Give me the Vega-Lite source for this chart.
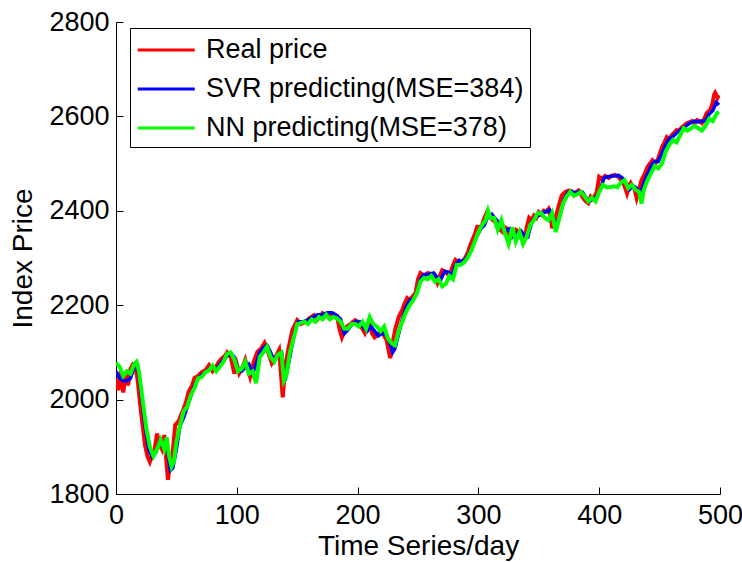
{
  "$schema": "https://vega.github.io/schema/vega-lite/v6.json",
  "width": 604,
  "height": 472,
  "autosize": {"type": "none"},
  "padding": {"left": 116, "top": 22, "right": 22, "bottom": 68},
  "background": "white",
  "config": {
    "view": {"stroke": null},
    "font": "Liberation Sans",
    "axis": {
      "domainColor": "black", "domainWidth": 1, "tickColor": "black", "tickWidth": 1, "ticks": true,
      "labelFontSize": 27, "labelColor": "black", "titleFontSize": 28,
      "titleFontWeight": "normal", "titleColor": "black", "grid": false, "labelFont": "Liberation Sans", "titleFont": "Liberation Sans"
    }
  },
  "datasets": {
    "real": [
      {"d":0,"v":2045},{"d":2,"v":2020},{"d":4,"v":2060},{"d":6,"v":2015},{"d":8,"v":2055},{"d":10,"v":2030},{"d":12,"v":2065},{"d":14,"v":2075},{"d":16,"v":2072},{"d":18,"v":2040},{"d":20,"v":1990},{"d":22,"v":1946},{"d":24,"v":1904},{"d":26,"v":1880},{"d":28,"v":1868},{"d":30,"v":1882},{"d":32,"v":1895},{"d":34,"v":1928},{"d":36,"v":1905},{"d":38,"v":1895},{"d":40,"v":1925},{"d":42,"v":1860},{"d":43,"v":1830},{"d":45,"v":1870},{"d":47,"v":1890},{"d":49,"v":1946},{"d":52,"v":1955},{"d":55,"v":1974},{"d":58,"v":1995},{"d":60,"v":2016},{"d":63,"v":2030},{"d":65,"v":2046},{"d":68,"v":2050},{"d":71,"v":2058},{"d":74,"v":2062},{"d":77,"v":2073},{"d":80,"v":2060},{"d":82,"v":2065},{"d":85,"v":2080},{"d":88,"v":2088},{"d":90,"v":2092},{"d":92,"v":2100},{"d":95,"v":2090},{"d":98,"v":2055},{"d":100,"v":2075},{"d":102,"v":2056},{"d":105,"v":2070},{"d":107,"v":2084},{"d":109,"v":2065},{"d":111,"v":2048},{"d":114,"v":2080},{"d":117,"v":2101},{"d":120,"v":2108},{"d":123,"v":2120},{"d":126,"v":2100},{"d":129,"v":2077},{"d":132,"v":2090},{"d":135,"v":2105},{"d":137,"v":2040},{"d":138,"v":2005},{"d":140,"v":2070},{"d":143,"v":2111},{"d":146,"v":2147},{"d":150,"v":2168},{"d":153,"v":2160},{"d":157,"v":2165},{"d":160,"v":2172},{"d":164,"v":2179},{"d":167,"v":2170},{"d":171,"v":2183},{"d":174,"v":2178},{"d":177,"v":2183},{"d":180,"v":2175},{"d":183,"v":2176},{"d":185,"v":2150},{"d":187,"v":2132},{"d":189,"v":2145},{"d":191,"v":2154},{"d":194,"v":2160},{"d":198,"v":2168},{"d":201,"v":2160},{"d":204,"v":2150},{"d":206,"v":2141},{"d":208,"v":2155},{"d":210,"v":2160},{"d":212,"v":2140},{"d":214,"v":2132},{"d":217,"v":2140},{"d":220,"v":2145},{"d":222,"v":2135},{"d":224,"v":2126},{"d":226,"v":2100},{"d":227,"v":2088},{"d":229,"v":2120},{"d":231,"v":2147},{"d":234,"v":2175},{"d":237,"v":2190},{"d":239,"v":2204},{"d":241,"v":2215},{"d":243,"v":2211},{"d":246,"v":2220},{"d":248,"v":2226},{"d":250,"v":2255},{"d":252,"v":2268},{"d":255,"v":2262},{"d":258,"v":2268},{"d":262,"v":2266},{"d":264,"v":2258},{"d":266,"v":2247},{"d":268,"v":2262},{"d":270,"v":2274},{"d":273,"v":2270},{"d":276,"v":2262},{"d":279,"v":2285},{"d":281,"v":2296},{"d":284,"v":2290},{"d":286,"v":2290},{"d":289,"v":2300},{"d":291,"v":2310},{"d":293,"v":2325},{"d":295,"v":2338},{"d":297,"v":2350},{"d":299,"v":2366},{"d":301,"v":2365},{"d":303,"v":2370},{"d":305,"v":2385},{"d":307,"v":2397},{"d":309,"v":2390},{"d":311,"v":2383},{"d":313,"v":2378},{"d":315,"v":2373},{"d":318,"v":2360},{"d":320,"v":2355},{"d":322,"v":2365},{"d":324,"v":2362},{"d":326,"v":2340},{"d":328,"v":2349},{"d":331,"v":2360},{"d":334,"v":2355},{"d":336,"v":2345},{"d":338,"v":2342},{"d":340,"v":2365},{"d":342,"v":2385},{"d":344,"v":2380},{"d":346,"v":2390},{"d":348,"v":2385},{"d":350,"v":2397},{"d":352,"v":2392},{"d":354,"v":2400},{"d":356,"v":2398},{"d":358,"v":2404},{"d":360,"v":2385},{"d":361,"v":2363},{"d":363,"v":2380},{"d":365,"v":2397},{"d":367,"v":2415},{"d":369,"v":2433},{"d":372,"v":2440},{"d":375,"v":2443},{"d":377,"v":2440},{"d":379,"v":2433},{"d":381,"v":2440},{"d":383,"v":2443},{"d":385,"v":2435},{"d":387,"v":2426},{"d":389,"v":2420},{"d":391,"v":2416},{"d":393,"v":2430},{"d":395,"v":2425},{"d":398,"v":2440},{"d":400,"v":2472},{"d":402,"v":2468},{"d":405,"v":2474},{"d":408,"v":2470},{"d":410,"v":2474},{"d":413,"v":2476},{"d":416,"v":2472},{"d":418,"v":2465},{"d":420,"v":2459},{"d":422,"v":2445},{"d":423,"v":2437},{"d":425,"v":2455},{"d":426,"v":2459},{"d":428,"v":2450},{"d":429,"v":2448},{"d":431,"v":2427},{"d":433,"v":2445},{"d":435,"v":2465},{"d":438,"v":2480},{"d":440,"v":2493},{"d":442,"v":2500},{"d":444,"v":2507},{"d":446,"v":2500},{"d":448,"v":2504},{"d":450,"v":2520},{"d":452,"v":2535},{"d":454,"v":2545},{"d":456,"v":2556},{"d":458,"v":2552},{"d":460,"v":2560},{"d":462,"v":2565},{"d":464,"v":2571},{"d":466,"v":2570},{"d":469,"v":2578},{"d":471,"v":2582},{"d":473,"v":2586},{"d":475,"v":2588},{"d":477,"v":2590},{"d":479,"v":2585},{"d":481,"v":2592},{"d":483,"v":2590},{"d":485,"v":2586},{"d":487,"v":2595},{"d":489,"v":2607},{"d":491,"v":2612},{"d":492,"v":2614},{"d":494,"v":2630},{"d":495,"v":2645},{"d":496,"v":2650},{"d":498,"v":2640},{"d":499,"v":2645}
    ],
    "svr": [
      {"d":0,"v":2060},{"d":3,"v":2045},{"d":6,"v":2040},{"d":9,"v":2040},{"d":12,"v":2045},{"d":15,"v":2068},{"d":18,"v":2070},{"d":21,"v":2010},{"d":24,"v":1945},{"d":27,"v":1895},{"d":30,"v":1878},{"d":33,"v":1888},{"d":36,"v":1910},{"d":39,"v":1900},{"d":42,"v":1905},{"d":45,"v":1850},{"d":47,"v":1855},{"d":50,"v":1895},{"d":53,"v":1945},{"d":56,"v":1962},{"d":59,"v":1985},{"d":62,"v":2008},{"d":65,"v":2030},{"d":68,"v":2045},{"d":71,"v":2052},{"d":74,"v":2058},{"d":77,"v":2064},{"d":80,"v":2070},{"d":83,"v":2063},{"d":86,"v":2075},{"d":89,"v":2085},{"d":92,"v":2092},{"d":95,"v":2098},{"d":98,"v":2090},{"d":101,"v":2062},{"d":104,"v":2060},{"d":107,"v":2068},{"d":110,"v":2075},{"d":113,"v":2055},{"d":116,"v":2075},{"d":119,"v":2100},{"d":122,"v":2110},{"d":125,"v":2115},{"d":128,"v":2100},{"d":131,"v":2082},{"d":134,"v":2095},{"d":137,"v":2100},{"d":140,"v":2040},{"d":142,"v":2065},{"d":145,"v":2105},{"d":148,"v":2145},{"d":151,"v":2165},{"d":155,"v":2165},{"d":159,"v":2168},{"d":163,"v":2175},{"d":167,"v":2180},{"d":171,"v":2180},{"d":175,"v":2184},{"d":179,"v":2184},{"d":183,"v":2178},{"d":186,"v":2170},{"d":189,"v":2140},{"d":192,"v":2148},{"d":195,"v":2158},{"d":199,"v":2166},{"d":202,"v":2165},{"d":205,"v":2152},{"d":208,"v":2145},{"d":211,"v":2155},{"d":214,"v":2145},{"d":217,"v":2135},{"d":220,"v":2140},{"d":223,"v":2138},{"d":226,"v":2125},{"d":229,"v":2100},{"d":231,"v":2108},{"d":234,"v":2140},{"d":237,"v":2170},{"d":240,"v":2195},{"d":243,"v":2210},{"d":246,"v":2213},{"d":249,"v":2225},{"d":252,"v":2255},{"d":255,"v":2265},{"d":259,"v":2265},{"d":263,"v":2268},{"d":266,"v":2258},{"d":269,"v":2255},{"d":272,"v":2272},{"d":275,"v":2270},{"d":278,"v":2263},{"d":281,"v":2285},{"d":284,"v":2295},{"d":287,"v":2292},{"d":290,"v":2300},{"d":293,"v":2312},{"d":296,"v":2330},{"d":299,"v":2348},{"d":302,"v":2362},{"d":305,"v":2370},{"d":308,"v":2390},{"d":311,"v":2393},{"d":314,"v":2383},{"d":317,"v":2375},{"d":320,"v":2365},{"d":323,"v":2358},{"d":326,"v":2362},{"d":329,"v":2345},{"d":332,"v":2352},{"d":335,"v":2358},{"d":338,"v":2348},{"d":341,"v":2345},{"d":344,"v":2375},{"d":347,"v":2387},{"d":350,"v":2390},{"d":353,"v":2396},{"d":356,"v":2398},{"d":359,"v":2402},{"d":362,"v":2385},{"d":365,"v":2368},{"d":368,"v":2395},{"d":371,"v":2425},{"d":374,"v":2438},{"d":377,"v":2442},{"d":380,"v":2437},{"d":383,"v":2440},{"d":386,"v":2440},{"d":389,"v":2428},{"d":392,"v":2420},{"d":395,"v":2425},{"d":398,"v":2430},{"d":401,"v":2445},{"d":404,"v":2470},{"d":407,"v":2472},{"d":410,"v":2473},{"d":413,"v":2474},{"d":416,"v":2475},{"d":419,"v":2470},{"d":422,"v":2460},{"d":425,"v":2445},{"d":428,"v":2453},{"d":431,"v":2448},{"d":434,"v":2432},{"d":437,"v":2460},{"d":440,"v":2478},{"d":443,"v":2495},{"d":446,"v":2505},{"d":449,"v":2505},{"d":452,"v":2522},{"d":455,"v":2540},{"d":458,"v":2553},{"d":461,"v":2557},{"d":464,"v":2565},{"d":467,"v":2571},{"d":470,"v":2576},{"d":473,"v":2582},{"d":476,"v":2587},{"d":479,"v":2590},{"d":482,"v":2588},{"d":485,"v":2590},{"d":488,"v":2590},{"d":491,"v":2605},{"d":494,"v":2612},{"d":497,"v":2630},{"d":499,"v":2624}
    ],
    "nn": [
      {"d":0,"v":2078},{"d":3,"v":2070},{"d":6,"v":2050},{"d":9,"v":2060},{"d":12,"v":2055},{"d":15,"v":2075},{"d":17,"v":2080},{"d":19,"v":2060},{"d":22,"v":2000},{"d":25,"v":1940},{"d":28,"v":1900},{"d":31,"v":1880},{"d":34,"v":1895},{"d":37,"v":1915},{"d":40,"v":1895},{"d":42,"v":1920},{"d":44,"v":1880},{"d":46,"v":1858},{"d":48,"v":1870},{"d":50,"v":1910},{"d":53,"v":1945},{"d":56,"v":1975},{"d":59,"v":1985},{"d":62,"v":2010},{"d":65,"v":2025},{"d":68,"v":2045},{"d":71,"v":2048},{"d":74,"v":2058},{"d":77,"v":2062},{"d":80,"v":2072},{"d":83,"v":2060},{"d":86,"v":2070},{"d":89,"v":2080},{"d":92,"v":2097},{"d":95,"v":2100},{"d":98,"v":2085},{"d":101,"v":2060},{"d":104,"v":2065},{"d":107,"v":2080},{"d":110,"v":2055},{"d":113,"v":2060},{"d":116,"v":2035},{"d":119,"v":2090},{"d":122,"v":2100},{"d":125,"v":2112},{"d":128,"v":2090},{"d":131,"v":2080},{"d":134,"v":2095},{"d":137,"v":2100},{"d":139,"v":2040},{"d":141,"v":2050},{"d":144,"v":2100},{"d":147,"v":2130},{"d":150,"v":2160},{"d":153,"v":2162},{"d":156,"v":2165},{"d":159,"v":2160},{"d":162,"v":2170},{"d":165,"v":2165},{"d":168,"v":2175},{"d":171,"v":2170},{"d":174,"v":2180},{"d":177,"v":2170},{"d":180,"v":2175},{"d":183,"v":2172},{"d":186,"v":2165},{"d":189,"v":2150},{"d":192,"v":2150},{"d":195,"v":2160},{"d":198,"v":2160},{"d":201,"v":2155},{"d":204,"v":2165},{"d":207,"v":2150},{"d":210,"v":2175},{"d":213,"v":2160},{"d":216,"v":2155},{"d":219,"v":2145},{"d":222,"v":2155},{"d":225,"v":2130},{"d":228,"v":2120},{"d":231,"v":2115},{"d":234,"v":2145},{"d":237,"v":2165},{"d":240,"v":2185},{"d":243,"v":2200},{"d":246,"v":2210},{"d":249,"v":2225},{"d":252,"v":2250},{"d":255,"v":2258},{"d":258,"v":2255},{"d":261,"v":2262},{"d":264,"v":2250},{"d":267,"v":2255},{"d":270,"v":2240},{"d":273,"v":2245},{"d":276,"v":2262},{"d":279,"v":2255},{"d":282,"v":2285},{"d":285,"v":2285},{"d":288,"v":2290},{"d":291,"v":2300},{"d":294,"v":2315},{"d":297,"v":2335},{"d":300,"v":2355},{"d":303,"v":2370},{"d":306,"v":2380},{"d":308,"v":2400},{"d":310,"v":2385},{"d":313,"v":2385},{"d":316,"v":2360},{"d":319,"v":2380},{"d":322,"v":2352},{"d":325,"v":2330},{"d":328,"v":2365},{"d":331,"v":2335},{"d":334,"v":2355},{"d":337,"v":2330},{"d":340,"v":2345},{"d":343,"v":2370},{"d":346,"v":2380},{"d":349,"v":2395},{"d":352,"v":2395},{"d":355,"v":2385},{"d":358,"v":2380},{"d":361,"v":2395},{"d":364,"v":2355},{"d":367,"v":2385},{"d":370,"v":2415},{"d":373,"v":2430},{"d":376,"v":2440},{"d":379,"v":2432},{"d":382,"v":2435},{"d":385,"v":2440},{"d":388,"v":2430},{"d":391,"v":2420},{"d":394,"v":2428},{"d":397,"v":2420},{"d":400,"v":2440},{"d":403,"v":2455},{"d":406,"v":2450},{"d":409,"v":2450},{"d":412,"v":2452},{"d":415,"v":2450},{"d":418,"v":2460},{"d":421,"v":2465},{"d":424,"v":2448},{"d":427,"v":2455},{"d":430,"v":2445},{"d":433,"v":2440},{"d":435,"v":2415},{"d":437,"v":2445},{"d":440,"v":2465},{"d":443,"v":2480},{"d":446,"v":2495},{"d":449,"v":2490},{"d":452,"v":2500},{"d":455,"v":2525},{"d":458,"v":2540},{"d":461,"v":2550},{"d":464,"v":2545},{"d":467,"v":2560},{"d":470,"v":2575},{"d":473,"v":2570},{"d":476,"v":2575},{"d":479,"v":2580},{"d":482,"v":2575},{"d":485,"v":2570},{"d":488,"v":2580},{"d":491,"v":2595},{"d":494,"v":2590},{"d":497,"v":2605},{"d":499,"v":2610}
    ]
  },
  "encoding": {
    "x": {"field": "d", "type": "quantitative", "title": "Time Series/day",
      "scale": {"domain": [0, 500], "nice": false},
      "axis": {"values": [0, 100, 200, 300, 400, 500], "tickSize": -7, "labelPadding": 15, "titlePadding": 4, "labelFlush": false, "format": "d"}},
    "y": {"field": "v", "type": "quantitative", "title": "Index Price",
      "scale": {"domain": [1800, 2800], "nice": false, "zero": false},
      "axis": {"values": [1800, 2000, 2200, 2400, 2600, 2800], "tickSize": -7, "labelPadding": 14, "titlePadding": 11, "labelFlush": false, "format": "d"}}
  },
  "layer": [
    {"data": {"name": "real"}, "mark": {"type": "line", "strokeWidth": 4, "strokeJoin": "miter", "clip": true},
      "encoding": {"color": {"datum": "Real price", "type": "nominal",
        "scale": {"domain": ["Real price", "SVR predicting(MSE=384)", "NN predicting(MSE=378)"], "range": ["#ff0000", "#0000ff", "#00ff00"]},
        "legend": {"title": null, "orient": "none", "legendX": 14, "legendY": 6, "symbolType": "M-1,0L3,0", "symbolSize": 812, "symbolStrokeWidth": 3,
          "labelFontSize": 27, "labelFont": "Liberation Sans", "labelColor": "black", "labelLimit": 600, "labelOffset": 38,
          "rowPadding": 10, "padding": 6, "strokeColor": "black", "fillColor": "white", "cornerRadius": 0}}}},
    {"data": {"name": "svr"}, "mark": {"type": "line", "strokeWidth": 3.5, "strokeJoin": "miter", "clip": true},
      "encoding": {"color": {"datum": "SVR predicting(MSE=384)", "type": "nominal"}}},
    {"data": {"name": "nn"}, "mark": {"type": "line", "strokeWidth": 4, "strokeJoin": "miter", "clip": true},
      "encoding": {"color": {"datum": "NN predicting(MSE=378)", "type": "nominal"}}}
  ]
}
